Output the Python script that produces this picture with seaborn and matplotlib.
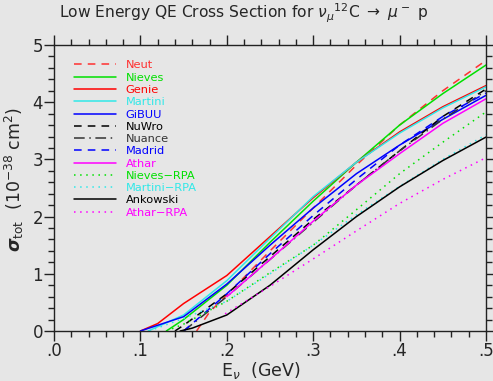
import numpy as np
import pandas as pd
import matplotlib
matplotlib.use("Agg")
import matplotlib.pyplot as plt
from matplotlib.ticker import MultipleLocator, FixedLocator
import seaborn as sns

# ── datos (E_nu en GeV, sigma en 1e-38 cm^2) ────────────────────────────────
neut_e = [0.165, 0.18, 0.20, 0.25, 0.30, 0.35, 0.40, 0.45, 0.50]
neut_s = [0.00, 0.33, 0.63, 1.40, 2.15, 2.90, 3.60, 4.20, 4.73]

nieves_e = [0.13, 0.15, 0.20, 0.25, 0.30, 0.35, 0.40, 0.45, 0.50]
nieves_s = [0.00, 0.20, 0.80, 1.55, 2.27, 2.95, 3.60, 4.15, 4.65]

genie_e = [0.10, 0.12, 0.15, 0.20, 0.25, 0.30, 0.35, 0.40, 0.45, 0.50]
genie_s = [0.00, 0.13, 0.48, 0.97, 1.65, 2.33, 2.95, 3.48, 3.92, 4.29]

martini_e = [0.109, 0.15, 0.20, 0.25, 0.30, 0.35, 0.40, 0.45, 0.50]
martini_s = [0.00, 0.28, 0.88, 1.62, 2.35, 2.95, 3.46, 3.90, 4.27]

gibuu_e = [0.10, 0.15, 0.20, 0.25, 0.30, 0.35, 0.40, 0.45, 0.50]
gibuu_s = [0.00, 0.25, 0.82, 1.50, 2.15, 2.75, 3.25, 3.70, 4.12]

nuwro_e = [0.14, 0.15, 0.20, 0.25, 0.30, 0.35, 0.40, 0.45, 0.50]
nuwro_s = [0.00, 0.10, 0.65, 1.30, 1.95, 2.55, 3.15, 3.75, 4.23]

nuance_e = [0.15, 0.20, 0.25, 0.30, 0.35, 0.40, 0.45, 0.50]
nuance_s = [0.00, 0.60, 1.25, 1.90, 2.55, 3.15, 3.70, 4.20]

madrid_e = [0.15, 0.20, 0.25, 0.30, 0.35, 0.40, 0.45, 0.50]
madrid_s = [0.00, 0.65, 1.35, 2.02, 2.65, 3.25, 3.75, 4.16]

athar_e = [0.20, 0.236, 0.25, 0.30, 0.35, 0.40, 0.45, 0.50]
athar_s = [0.60, 1.07, 1.25, 1.92, 2.55, 3.10, 3.63, 4.06]

nieves_rpa_e = [0.13, 0.15, 0.20, 0.25, 0.30, 0.35, 0.40, 0.45, 0.50]
nieves_rpa_s = [0.00, 0.12, 0.52, 1.02, 1.50, 2.12, 2.75, 3.30, 3.83]

martini_rpa_e = [0.11, 0.15, 0.20, 0.25, 0.30, 0.35, 0.40, 0.45, 0.50]
martini_rpa_s = [0.00, 0.22, 0.52, 1.00, 1.50, 2.03, 2.53, 3.00, 3.43]

ankowski_e = [0.146, 0.16, 0.20, 0.25, 0.30, 0.35, 0.40, 0.45, 0.50]
ankowski_s = [0.00, 0.05, 0.28, 0.80, 1.42, 2.00, 2.52, 2.98, 3.39]

athar_rpa_e = [0.198, 0.25, 0.30, 0.35, 0.40, 0.45, 0.50]
athar_rpa_s = [0.30, 0.78, 1.26, 1.75, 2.23, 2.65, 3.03]

x_ticks = [0.0, 0.1, 0.2, 0.3, 0.4, 0.5]
x_tick_labels = [".0", ".1", ".2", ".3", ".4", ".5"]
y_ticks = [0, 1, 2, 3, 4, 5]

# (etiqueta, x, y, color, estilo)
series = [
    ("Neut", neut_e, neut_s, "#ff3030", (5, 4)),
    ("Nieves", nieves_e, nieves_s, "#00e000", "-"),
    ("Genie", genie_e, genie_s, "#ff0000", "-"),
    ("Martini", martini_e, martini_s, "#30e8e8", "-"),
    ("GiBUU", gibuu_e, gibuu_s, "#0000ff", "-"),
    ("NuWro", nuwro_e, nuwro_s, "#000000", (5, 4)),
    ("Nuance", nuance_e, nuance_s, "#333333", (7, 3, 1, 3)),
    ("Madrid", madrid_e, madrid_s, "#0000ff", (5, 4)),
    ("Athar", athar_e, athar_s, "#ff00ff", "-"),
    ("Nieves\u2212RPA", nieves_rpa_e, nieves_rpa_s, "#00e000", (1, 3)),
    ("Martini\u2212RPA", martini_rpa_e, martini_rpa_s, "#30e8e8", (1, 3)),
    ("Ankowski", ankowski_e, ankowski_s, "#000000", "-"),
    ("Athar\u2212RPA", athar_rpa_e, athar_rpa_s, "#ff00ff", (1, 3)),
]

BG = "#e6e6e6"
sns.set_theme(style="ticks")
plt.rcParams["font.family"] = ["DejaVu Sans"]

fig = plt.figure(figsize=(4.93, 3.81), dpi=100, facecolor=BG)
ax = fig.add_axes([54 / 493, 1 - 331 / 381, 432 / 493, 286 / 381])
ax.set_facecolor(BG)

for label, xs, ys, color, style in series:
    df = pd.DataFrame({"E": xs, "sigma": ys})
    sns.lineplot(data=df, x="E", y="sigma", ax=ax, color=color, lw=1.1,
                 label=label, sort=False)
    line = ax.get_lines()[-1]
    if style == "-":
        line.set_linestyle("-")
    else:
        line.set_dashes(style)

ax.set_xlim(0, 0.5)
ax.set_ylim(0, 5)
ax.xaxis.set_major_locator(FixedLocator(x_ticks))
ax.set_xticklabels(x_tick_labels)
ax.xaxis.set_minor_locator(MultipleLocator(0.02))
ax.yaxis.set_major_locator(FixedLocator(y_ticks))
ax.yaxis.set_minor_locator(MultipleLocator(0.2))
ax.tick_params(which="both", direction="out", top=True, right=True,
               labelsize=12, color="#222222", width=1)
ax.tick_params(which="major", length=7, pad=1)
ax.tick_params(which="minor", length=4)
for sp in ax.spines.values():
    sp.set_color("#222222")
    sp.set_linewidth(1)

ax.set_xlabel(r"E$_\nu$  (GeV)", fontsize=12.5, va="bottom")
ax.xaxis.set_label_coords(0.478, -0.175)
ax.set_ylabel(r"$\boldsymbol{\sigma}$$_{\rm tot}$  (10$^{-38}$ cm$^2$)", fontsize=12.5, va="top")
ax.yaxis.set_label_coords(-0.118, 0.53)

fig.text(0.493, 0.965, r"Low Energy QE Cross Section for $\nu_\mu$$^{12}$C $\rightarrow$ $\mu^-$ p",
         ha="center", va="center", fontsize=11.2)

leg = ax.legend(loc="upper left", bbox_to_anchor=(0.035, 0.962), frameon=False,
                fontsize=8.2, handlelength=3.7, handletextpad=0.85,
                labelspacing=0.2, borderaxespad=0)
for txt, (_, _, _, color, _) in zip(leg.get_texts(), series):
    txt.set_color(color)

fig.savefig("out.png", dpi=100, facecolor=BG)
